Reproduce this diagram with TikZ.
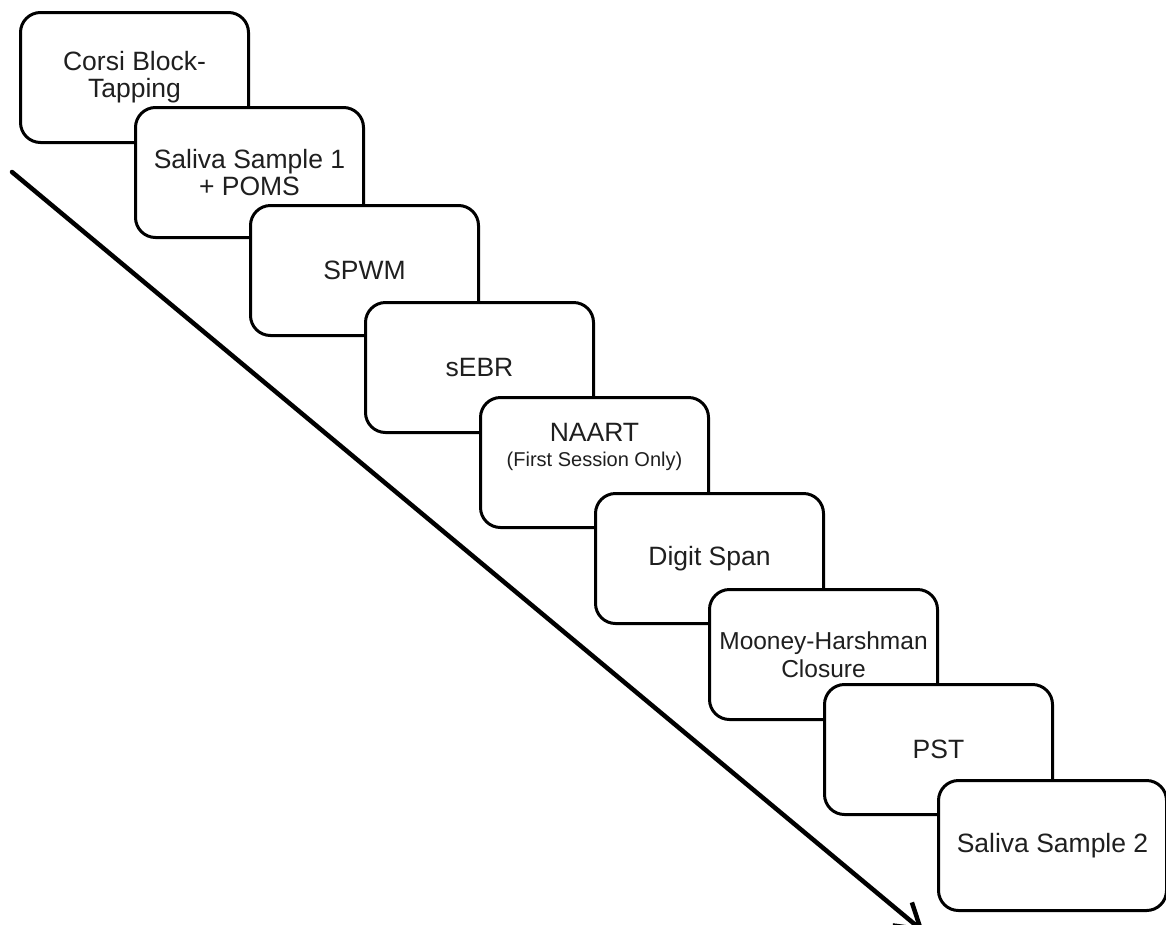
\documentclass[tikz,border=0pt]{standalone}
\usepackage{fontspec}
\setmainfont{Liberation Sans}
\usetikzlibrary{arrows.meta}
\tikzset{
  stepbox/.style={draw=black, line width=3pt, fill=white, rounded corners=20pt,
    minimum width=228pt, minimum height=130pt, anchor=north west, align=center,
    inner sep=4pt, text=black!88, font=\fontsize{26.5}{27}\selectfont},
  timeline/.style={line width=4.5pt, line cap=round, -{Straight Barb[length=24pt,width=30pt,line width=4.5pt]}},
}
\begin{document}
\begin{tikzpicture}[x=1pt,y=-1pt]
\useasboundingbox (0,0) rectangle (1166,924);
\coordinate (s) at (12,172);
\coordinate (e) at (924,932);
\draw[timeline] (s) -- (e);
\node[stepbox] (b1) at (19,11) {Corsi Block-\\Tapping};
\node[stepbox] (b2) at (134,106) {Saliva Sample 1\\+ POMS};
\node[stepbox] (b3) at (249,204) {SPWM};
\node[stepbox] (b4) at (364,301) {sEBR};
\node[stepbox] (b5) at (479,396) {NAART\\[-2pt]{\fontsize{20}{22}\selectfont (First Session Only)}\\[8pt]};
\node[stepbox] (b6) at (594,492) {Digit Span};
\node[stepbox, font=\fontsize{24.5}{28}\selectfont] (b7) at (708,588) {Mooney-Harshman\\Closure};
\node[stepbox] (b8) at (823,683) {PST};
\node[stepbox] (b9) at (937,779) {Saliva Sample 2};
\end{tikzpicture}
\end{document}
